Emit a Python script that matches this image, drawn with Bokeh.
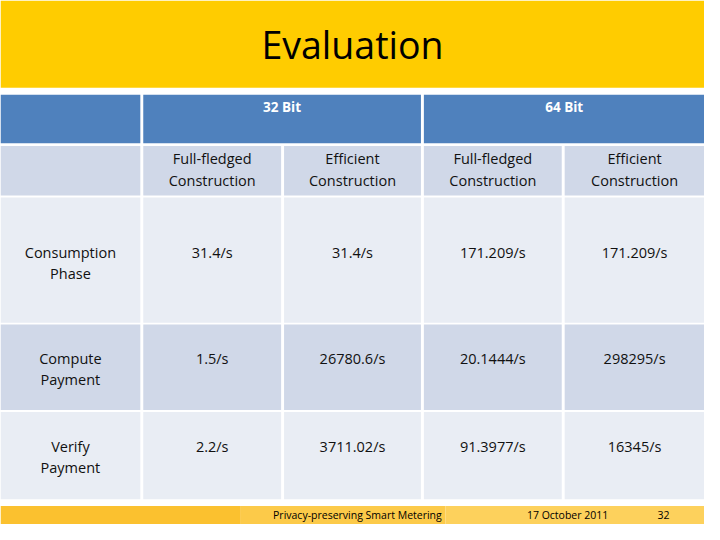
from bokeh.plotting import figure
from bokeh.models import Range1d, ColumnDataSource
from bokeh.core.properties import value
from bokeh.embed import file_html
from bokeh.resources import INLINE

# ---- data ----
title = "Evaluation"
groups = ["32 Bit", "64 Bit"]
variants = ["Full-fledged\nConstruction", "Efficient\nConstruction",
            "Full-fledged\nConstruction", "Efficient\nConstruction"]
row_labels = ["Consumption\nPhase", "Compute\nPayment", "Verify\nPayment"]
vals_32_full = ["31.4/s", "1.5/s", "2.2/s"]
vals_32_eff = ["31.4/s", "26780.6/s", "3711.02/s"]
vals_64_full = ["171.209/s", "20.1444/s", "91.3977/s"]
vals_64_eff = ["171.209/s", "298295/s", "16345/s"]
footer_texts = ["Privacy-preserving Smart Metering", "17 October 2011", "32"]

# ---- layout (slide coordinates, 720 x 540) ----
FONT = value("Open Sans")
col_edges = [(0, 143), (146, 287), (290, 430), (433, 574), (577, 720)]
row_edges = [(97, 147), (150, 201), (203, 332), (334, 422), (424, 514)]
row_fill = ["#4F81BD", "#D0D8E8", "#E9EDF4", "#D0D8E8", "#E9EDF4"]

p = figure(width=704, height=524, output_backend="svg", toolbar_location=None,
           x_range=Range1d(0, 720), y_range=Range1d(540, 0),
           min_border=0, min_border_left=0, min_border_right=0,
           min_border_top=0, min_border_bottom=0)
p.axis.visible = False
p.grid.visible = False
p.outline_line_color = None
p.background_fill_color = "white"
p.border_fill_color = "white"

# title bar
p.quad(left=[0], right=[720], top=[0], bottom=[90], fill_color="#FFCC00", line_color=None)
p.text(x=[360], y=[45], text=[title], text_font=FONT, text_font_size="37.5px",
       text_align="center", text_baseline="middle", text_color="black")

# header row (merged)
L, R, T, B, C = [], [], [], [], []
L.append(col_edges[0][0]); R.append(col_edges[0][1])
L.append(col_edges[1][0]); R.append(col_edges[2][1])
L.append(col_edges[3][0]); R.append(col_edges[4][1])
for _ in range(3):
    T.append(row_edges[0][0]); B.append(row_edges[0][1]); C.append(row_fill[0])
for ri in range(1, 5):
    for (l, r) in col_edges:
        L.append(l); R.append(r); T.append(row_edges[ri][0]); B.append(row_edges[ri][1]); C.append(row_fill[ri])
p.quad(source=ColumnDataSource(dict(left=L, right=R, top=T, bottom=B, fill=C)),
       left="left", right="right", top="top", bottom="bottom", fill_color="fill", line_color=None)

# group headers
gx = [(col_edges[1][0] + col_edges[2][1]) / 2, (col_edges[3][0] + col_edges[4][1]) / 2]
p.text(x=gx, y=[110, 110], text=groups, text_font=FONT, text_font_size="13.5px",
       text_font_style="bold", text_align="center", text_baseline="middle", text_color="white")

def cx(i):
    return (col_edges[i][0] + col_edges[i][1]) / 2

def two_lines(xs, y1, labels, gap=22):
    X, Y, Tx = [], [], []
    for x, lab in zip(xs, labels):
        parts = lab.split("\n")
        for k, part in enumerate(parts):
            X.append(x); Y.append(y1 + k * gap); Tx.append(part)
    return X, Y, Tx

# variant headers
X, Y, Tx = two_lines([cx(1), cx(2), cx(3), cx(4)], 163, variants)
p.text(x=X, y=Y, text=Tx, text_font=FONT, text_font_size="14.5px",
       text_align="center", text_baseline="middle", text_color="#111111")

# rows
row_y = [260, 369, 460]
X, Y, Tx = two_lines([cx(0)] * 3, 0, row_labels)
Y = [row_y[i // 2] + (i % 2) * 21.5 for i in range(len(Y))]
p.text(x=X, y=Y, text=Tx, text_font=FONT, text_font_size="14.5px",
       text_align="center", text_baseline="middle", text_color="#111111")

vx, vy, vt = [], [], []
for ci, col in enumerate([vals_32_full, vals_32_eff, vals_64_full, vals_64_eff]):
    for ri, v in enumerate(col):
        vx.append(cx(ci + 1)); vy.append(row_y[ri]); vt.append(v)
p.text(x=vx, y=vy, text=vt, text_font=FONT, text_font_size="14.5px",
       text_align="center", text_baseline="middle", text_color="#111111")

# footer
p.quad(left=[0, 245, 455], right=[245, 455, 720], top=[521, 521, 521], bottom=[540, 540, 540],
       fill_color=["#FBC12F", "#FCCA49", "#FDD15C"], line_color=None)
p.text(x=[365, 580, 678], y=[530.5, 530.5, 530.5], text=footer_texts, text_font=FONT,
       text_font_size="10.5px", text_align="center", text_baseline="middle", text_color="black")

open("out.html", "w").write(file_html(p, INLINE))
